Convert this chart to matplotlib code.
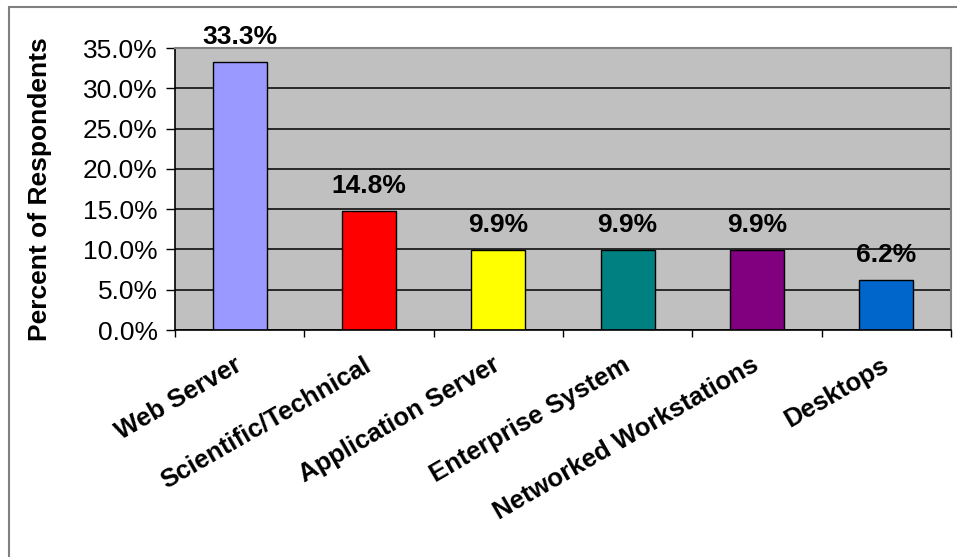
import matplotlib
matplotlib.use("Agg")
import matplotlib.pyplot as plt
from matplotlib.patches import Rectangle
from matplotlib.ticker import FuncFormatter, FixedLocator
import numpy as np

categories = ["Web Server", "Scientific/Technical", "Application Server",
              "Enterprise System", "Networked Workstations", "Desktops"]
percents = [33.3, 14.8, 9.9, 9.9, 9.9, 6.2]
bar_colors = ["#9999FF", "#FF0000", "#FFFF00", "#008080", "#800080", "#0066CC"]
y_ticks = [0, 5, 10, 15, 20, 25, 30, 35]

plt.rcParams["font.family"] = ["Liberation Sans", "DejaVu Sans"]

W, H = 957, 557
fig = plt.figure(figsize=(W / 100, H / 100), dpi=100)
fig.patch.set_facecolor("white")

# outer chart border (only top/left fall inside the picture)
fig.patches.append(Rectangle((9 / W, -0.1), 1.2, (H - 7) / H + 0.1,
                             transform=fig.transFigure, fill=False,
                             edgecolor="#808080", linewidth=1.5))

left, right, top, bottom = 175, 951, 48, 330
ax = fig.add_axes([left / W, (H - bottom) / H, (right - left) / W, (bottom - top) / H])
ax.set_facecolor("#C0C0C0")

x = np.arange(len(categories))
ax.set_axisbelow(True)
ax.yaxis.grid(True, color="#000000", linewidth=1.1)
bars = ax.bar(x, percents, width=0.42, color=bar_colors,
              edgecolor="black", linewidth=1)

ax.set_xlim(-0.5, len(categories) - 0.5)
ax.set_ylim(0, 35)
ax.set_yticks(y_ticks)
ax.yaxis.set_major_formatter(FuncFormatter(lambda v, p: f"{v:.1f}%"))
ax.tick_params(axis="y", length=6.5, width=1, labelsize=19, pad=6, direction="out")

# labels at category centres, tick marks at category boundaries
ax.set_xticks(x)
ax.set_xticklabels(categories, fontsize=18.5, fontweight="bold")
ax.xaxis.set_minor_locator(FixedLocator(np.arange(-0.5, len(categories), 1.0)))
ax.tick_params(axis="x", which="major", length=0, pad=24)
ax.tick_params(axis="x", which="minor", length=5, width=1, direction="out")
plt.setp(ax.get_xticklabels(), rotation=30, ha="right", va="center",
         rotation_mode="anchor")

for s in ["left", "bottom"]:
    ax.spines[s].set_color("black")
    ax.spines[s].set_linewidth(1.2)
for s in ["top", "right"]:
    ax.spines[s].set_color("#808080")
    ax.spines[s].set_linewidth(1.5)

for bar, v in zip(bars, percents):
    ax.annotate(f"{v:.1f}%", (bar.get_x() + bar.get_width() / 2, v),
                xytext=(0, 13), textcoords="offset points",
                ha="center", va="baseline", fontsize=19, fontweight="bold",
                annotation_clip=False)

ax.set_ylabel("Percent of Respondents", fontsize=19, fontweight="bold")
ax.yaxis.set_label_coords((52 - left) / (right - left), 0.5)

fig.savefig("out.png", dpi=100)
